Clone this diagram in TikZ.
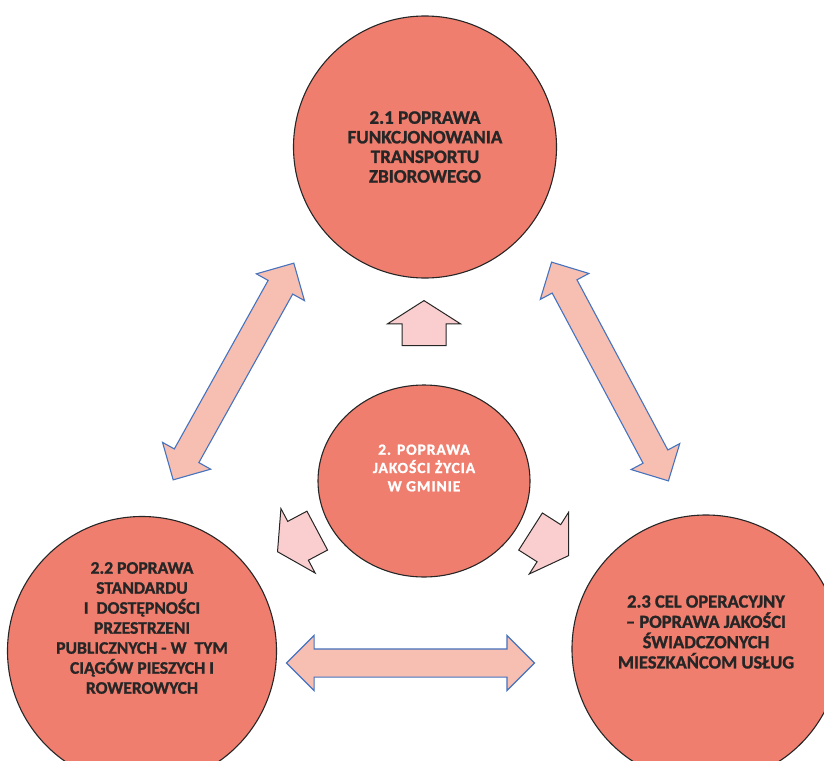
\documentclass[tikz,border=0pt]{standalone}
\usepackage{fontspec}
\setmainfont{Carlito}[BoldFeatures={FakeBold=1.2}]
\newfontfamily\widefont{Carlito}[LetterSpace=6,BoldFeatures={FakeBold=1.2}]
\usetikzlibrary{shapes.geometric,shapes.arrows}
\definecolor{goalred}{RGB}{240,126,110}
\definecolor{arrpink}{RGB}{250,206,206}
\definecolor{linkfill}{RGB}{247,190,178}
\definecolor{linkline}{RGB}{70,115,190}
\begin{document}
\begin{tikzpicture}[x=1pt, y=-1pt, font=\bfseries\fontsize{17}{19.6}\selectfont,
	goal/.style={ellipse, draw=black!85, line width=1.1pt, fill=goalred, inner sep=0pt},
	txt/.style={align=center, inner sep=0pt, text=black!85},
	blockarr/.style={single arrow, draw=black!85, line width=1pt, fill=arrpink, inner xsep=0pt, inner ysep=21.5pt,
		minimum height=45pt, single arrow head extend=14.5pt, single arrow tip angle=115},
	link/.style={double arrow, draw=linkline, line width=1.1pt, fill=linkfill, inner xsep=0pt, inner ysep=13.5pt,
		minimum height=248pt, double arrow head extend=13.5pt, double arrow tip angle=90}]
	\useasboundingbox (0,0) rectangle (824,760);
	\clip (0,0) rectangle (824,760);
	\path
	(425,147) coordinate (P1)
	(424,481) coordinate (P0)
	(142,651) coordinate (P2)
	(706,649) coordinate (P3)
	;
	% circles
	\node[goal, minimum width=263pt, minimum height=262pt] (c1) at (P1) {};
	\node[goal, minimum width=212pt, minimum height=192pt] (c0) at (P0) {};
	\node[goal, minimum size=269pt] (c2) at (P2) {};
	\node[goal, minimum size=268pt] (c3) at (P3) {};
	% texts
	\node[txt, font=\bfseries\fontsize{19}{19.6}\selectfont] (t1) at (c1.center) {2.1 POPRAWA\\FUNKCJONOWANIA\\TRANSPORTU\\ZBIOROWEGO};
	\node[txt, text=white, font=\widefont\bfseries\fontsize{15.5}{18.3}\selectfont] (t0) at ([yshift=13pt]c0.center) {2. POPRAWA\\JAKOŚCI ŻYCIA\\W GMINIE};
	\node[txt, font=\bfseries\fontsize{17.6}{20}\selectfont] (t2) at ([yshift=23pt]c2.center) {2.2 POPRAWA\\STANDARDU\\I\ \ DOSTĘPNOŚCI\\PRZESTRZENI\\PUBLICZNYCH - W\ \ TYM\\CIĄGÓW PIESZYCH I\\ROWEROWYCH};
	\node[txt, font=\bfseries\fontsize{18.5}{20.3}\selectfont] (t3) at ([yshift=17pt]c3.center) {2.3 CEL OPERACYJNY\\– POPRAWA JAKOŚCI\\ŚWIADCZONYCH\\MIESZKAŃCOM USŁUG};
	% arrows from the centre
	\node[blockarr, rotate=90, anchor=tip] (a1) at (424,300) {};
	\node[blockarr, rotate=208, anchor=tip] (a2) at (277,552) {};
	\node[blockarr, rotate=-32.5, anchor=tip] (a3) at (569,556) {};
	% links between goals
	\node[link, rotate=60.9] (l12) at (233.5,371.5) {};
	\node[link, rotate=-61.9] (l13) at (610,371.5) {};
	\node[link] (l23) at (410.5,663) {};
\end{tikzpicture}
\end{document}
